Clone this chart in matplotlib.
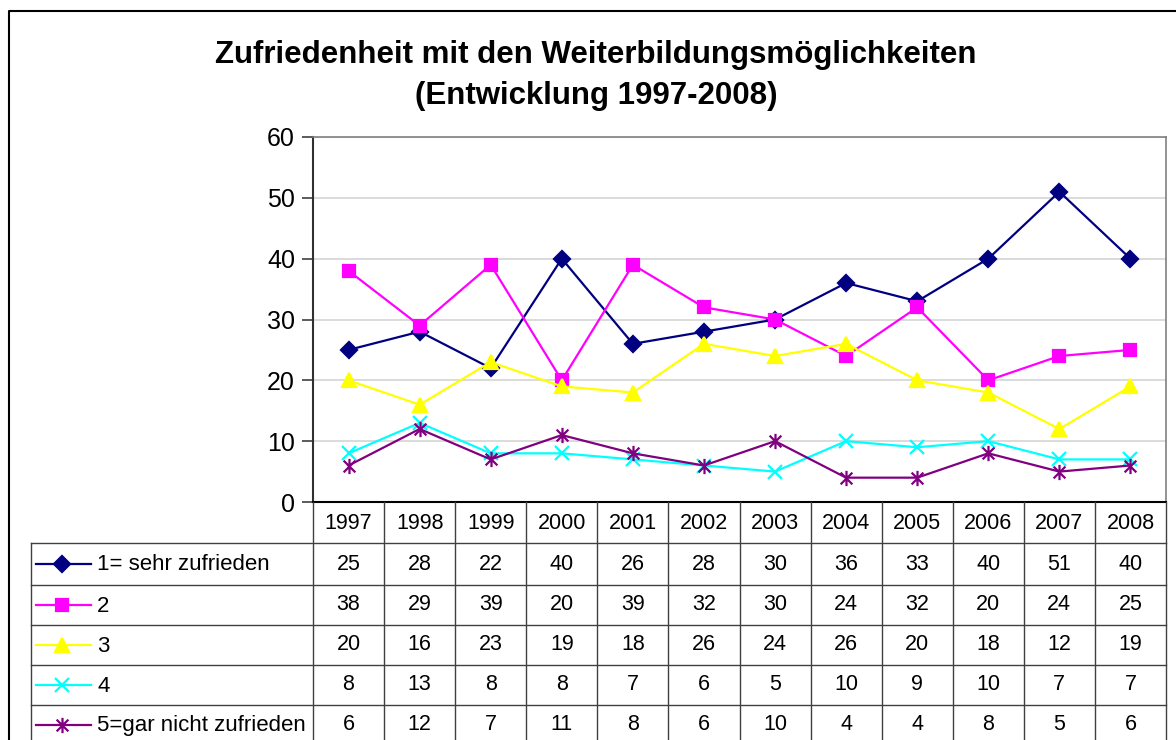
import numpy as np
import matplotlib
matplotlib.use('Agg')
import matplotlib.pyplot as plt
from matplotlib.lines import Line2D
from matplotlib.path import Path

plt.rcParams['font.family'] = ['Liberation Sans', 'DejaVu Sans']

years = ['1997', '1998', '1999', '2000', '2001', '2002', '2003', '2004',
         '2005', '2006', '2007', '2008']
labels = ['1= sehr zufrieden', '2', '3', '4', '5=gar nicht zufrieden']
s1 = [25, 28, 22, 40, 26, 28, 30, 36, 33, 40, 51, 40]
s2 = [38, 29, 39, 20, 39, 32, 30, 24, 32, 20, 24, 25]
s3 = [20, 16, 23, 19, 18, 26, 24, 26, 20, 18, 12, 19]
s4 = [8, 13, 8, 8, 7, 6, 5, 10, 9, 10, 7, 7]
s5 = [6, 12, 7, 11, 8, 6, 10, 4, 4, 8, 5, 6]
series = [s1, s2, s3, s4, s5]

# excel-like star marker: x with a vertical bar
star = Path([(-1, -1), (1, 1), (-1, 1), (1, -1), (0, -1.3), (0, 1.3)],
            [Path.MOVETO, Path.LINETO, Path.MOVETO, Path.LINETO,
             Path.MOVETO, Path.LINETO])

colors = ['#000080', '#ff00ff', '#ffff00', '#00ffff', '#800080']
markers = ['D', 's', '^', 'x', star]
msizes = [8.5, 8.5, 10, 10, 11]

W, H = 1176, 740
fig = plt.figure(figsize=(W / 100, H / 100), dpi=100)

# plot area in pixel layout
left, right, top, bottom = 313, 1166, 137, 502
ax = fig.add_axes([left / W, 1 - bottom / H, (right - left) / W, (bottom - top) / H])
x = np.arange(len(years))
for vals, c, m, ms in zip(series, colors, markers, msizes):
    ax.plot(x, vals, color=c, lw=1.6, marker=m, ms=ms, mfc=c, mec=c,
            mew=1.6, clip_on=False, zorder=3)
ax.set_xlim(-0.5, len(years) - 0.5)
ax.set_ylim(0, 60)
ax.set_yticks(range(0, 61, 10))
ax.set_xticks([])
ax.yaxis.grid(True, color='#d4d4d4', lw=1.2)
ax.set_axisbelow(True)
ax.tick_params(axis='y', labelsize=18, length=8, width=1.2, color='#404040', pad=5)
for s in ['top', 'right']:
    ax.spines[s].set_color('#808080')
    ax.spines[s].set_linewidth(1.2)
ax.spines['left'].set_color('#303030')
ax.spines['left'].set_linewidth(1.5)
ax.spines['bottom'].set_color('black')
ax.spines['bottom'].set_linewidth(1.5)

# overlay axes in pixel coords for frame, title and data table
tab = fig.add_axes([0, 0, 1, 1], zorder=5)
tab.set_xlim(0, W)
tab.set_ylim(H, 0)
tab.axis('off')
tab.patch.set_alpha(0)

# chart frame
tab.plot([9, 9, W + 5], [H + 5, 11, 11], color='black', lw=1.5)

tab.text(596, 55, 'Zufriedenheit mit den Weiterbildungsmöglichkeiten',
         ha='center', va='center', fontsize=22.5, fontweight='bold')
tab.text(596, 96, '(Entwicklung 1997-2008)',
         ha='center', va='center', fontsize=22.5, fontweight='bold')

colw = (right - left) / len(years)
rows = [502, 543, 585, 625, 665, 705, 745]
lc = '#404040'
# horizontal lines
tab.plot([left, right], [rows[0], rows[0]], color='black', lw=1.2)
for r in rows[1:-1]:
    tab.plot([31, right], [r, r], color=lc, lw=1)
# vertical lines
for i in range(len(years) + 1):
    xv = left + i * colw
    tab.plot([xv, xv], [rows[0], H + 5], color=lc, lw=1)
tab.plot([31, 31], [rows[1], H + 5], color=lc, lw=1)

fs = 15.5
for i, yr in enumerate(years):
    tab.text(left + (i + 0.5) * colw, (rows[0] + rows[1]) / 2 + 1, yr,
             ha='center', va='center', fontsize=fs)

for j, (lab, vals, c, m, ms) in enumerate(zip(labels, series, colors, markers, msizes)):
    yc = (rows[j + 1] + rows[j + 2]) / 2
    tab.add_line(Line2D([36, 91], [yc, yc], color=c, lw=1.6))
    tab.plot([62], [yc], marker=m, ms=ms, color=c, mew=1.6)
    tab.text(97, yc + 1, lab, ha='left', va='center', fontsize=16)
    for i, v in enumerate(vals):
        tab.text(left + (i + 0.5) * colw, yc, str(v),
                 ha='center', va='center', fontsize=fs)

fig.savefig('out.png', dpi=100)
